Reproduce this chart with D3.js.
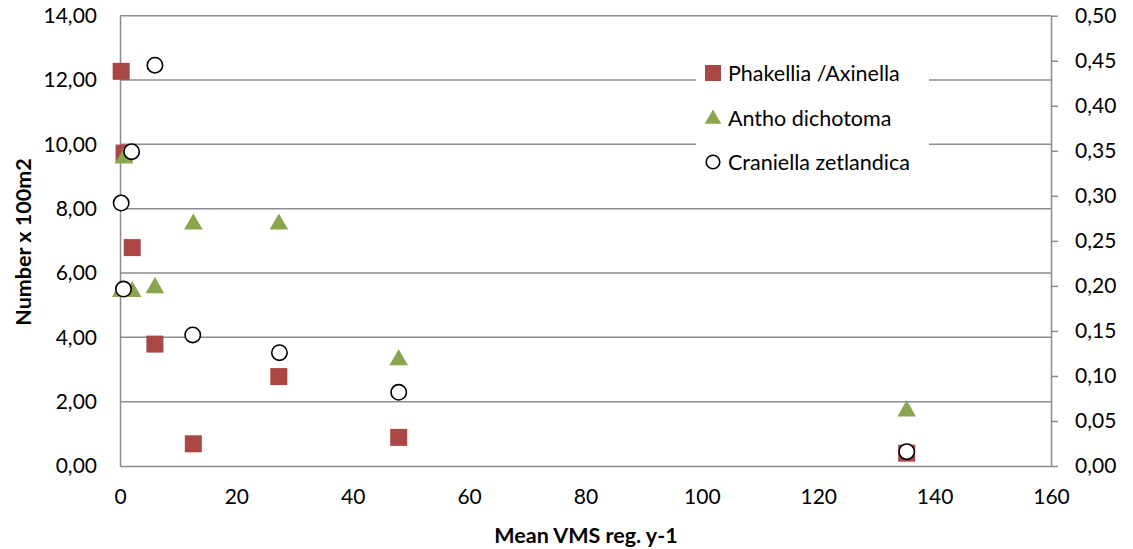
<!DOCTYPE html>
<html>
<head>
<meta charset="utf-8">
<script src="https://cdn.jsdelivr.net/npm/d3@7"></script>
<style>
  body { margin: 0; background: #fff; }
  svg text { font-family: Lato, "Open Sans", sans-serif; fill: #000; }
</style>
</head>
<body>
<svg id="chart" width="1133" height="549"></svg>
<script>
// site values (x = mean VMS registrations per year)
var vmsX = [0.2, 0.7, 2.1, 6.0, 12.6, 27.3, 47.9, 135.2];
var phakellia = [12.27, 9.73, 6.79, 3.79, 0.69, 2.78, 0.89, 0.40];
var antho = [5.45, 9.6, 5.45, 5.57, 7.55, 7.55, 3.33, 1.74];
// craniella is plotted against the secondary (right) axis
var craniellaX = [6.0, 2.0, 0.2, 0.6, 12.5, 27.4, 47.9, 135.2];
var craniella = [0.445, 0.349, 0.292, 0.1965, 0.1455, 0.1258, 0.0818, 0.0159];

var leftTicks = d3.range(0, 14.01, 2);
var rightTicks = d3.range(0, 0.501, 0.05);
var xTicks = d3.range(0, 161, 20);
var seriesNames = ['Phakellia /Axinella', 'Antho dichotoma', 'Craniella zetlandica'];

var red = '#AA4643', green = '#89A54E', grid = '#8c8c8c';

var svg = d3.select('#chart');
var plot = { left: 120, right: 1051, top: 15.7, bottom: 466 };

var x = d3.scaleLinear().domain([0, 160]).range([plot.left, plot.right]);
var yL = d3.scaleLinear().domain([0, 14]).range([plot.bottom, plot.top]);
var yR = d3.scaleLinear().domain([0, 0.5]).range([plot.bottom, plot.top]);

var comma = function(d) { return d3.format('.2f')(d).replace('.', ','); };

// horizontal gridlines
svg.append('g')
  .selectAll('line')
  .data(leftTicks.slice(1))
  .enter().append('line')
  .attr('x1', plot.left).attr('x2', plot.right)
  .attr('y1', function(d) { return yL(d); })
  .attr('y2', function(d) { return yL(d); })
  .attr('stroke', grid).attr('stroke-width', 1.5);

// axes
var gx = svg.append('g')
  .attr('transform', 'translate(0,' + plot.bottom + ')')
  .call(d3.axisBottom(x).tickValues(xTicks).tickSize(0).tickPadding(23));
var gl = svg.append('g')
  .attr('transform', 'translate(' + plot.left + ',0)')
  .call(d3.axisLeft(yL).tickValues(leftTicks).tickSize(0).tickPadding(23).tickFormat(comma));
var gr = svg.append('g')
  .attr('transform', 'translate(' + plot.right + ',0)')
  .call(d3.axisRight(yR).tickValues(rightTicks).tickSizeInner(7).tickSizeOuter(0).tickPadding(17).tickFormat(comma));

[gx, gl, gr].forEach(function(g) {
  g.select('.domain').attr('stroke', grid).attr('stroke-width', 1.5);
  g.selectAll('.tick line').attr('stroke', grid).attr('stroke-width', 1.5);
  g.selectAll('.tick text').attr('font-size', 21).attr('font-family', 'Lato, sans-serif').attr('fill', '#000');
});

// axis titles
svg.append('text')
  .attr('transform', 'translate(31,242) rotate(-90)')
  .attr('text-anchor', 'middle')
  .attr('font-size', 21.5).attr('font-weight', 'bold')
  .text('Number x 100m2');
svg.append('text')
  .attr('x', 586).attr('y', 543)
  .attr('text-anchor', 'middle')
  .attr('font-size', 21.5).attr('font-weight', 'bold')
  .text('Mean VMS reg. y-1');

// markers
var sq = 17, tri = d3.symbol().type(d3.symbolTriangle).size(150);

svg.append('g').selectAll('rect')
  .data(d3.zip(vmsX, phakellia))
  .enter().append('rect')
  .attr('x', function(d) { return x(d[0]) - sq / 2; })
  .attr('y', function(d) { return yL(d[1]) - sq / 2; })
  .attr('width', sq).attr('height', sq)
  .attr('fill', red);

svg.append('g').selectAll('path')
  .data(d3.zip(vmsX, antho))
  .enter().append('path')
  .attr('d', tri)
  .attr('transform', function(d) { return 'translate(' + x(d[0]) + ',' + (yL(d[1]) + 1) + ')'; })
  .attr('fill', green);

svg.append('g').selectAll('circle')
  .data(d3.zip(craniellaX, craniella))
  .enter().append('circle')
  .attr('cx', function(d) { return x(d[0]); })
  .attr('cy', function(d) { return yR(d[1]); })
  .attr('r', 7.7)
  .attr('fill', '#fff').attr('stroke', '#000').attr('stroke-width', 1.6);

// legend
var legend = svg.append('g');
legend.append('rect')
  .attr('x', 696).attr('y', 50).attr('width', 233).attr('height', 135)
  .attr('fill', '#fff');
var rowY = [73, 118, 162];
var items = legend.selectAll('g.item')
  .data(seriesNames)
  .enter().append('g')
  .attr('class', 'item')
  .attr('transform', function(d, i) { return 'translate(713,' + rowY[i] + ')'; });
items.each(function(d, i) {
  var g = d3.select(this);
  if (i === 0) {
    g.append('rect').attr('x', -8).attr('y', -8).attr('width', 16).attr('height', 16).attr('fill', red);
  } else if (i === 1) {
    g.append('path').attr('d', d3.symbol().type(d3.symbolTriangle).size(120)).attr('transform', 'translate(0,1)').attr('fill', green);
  } else {
    g.append('circle').attr('r', 6.8).attr('fill', '#fff').attr('stroke', '#000').attr('stroke-width', 1.6);
  }
  g.append('text')
    .attr('x', 15).attr('dy', '0.35em')
    .attr('font-size', 21.5)
    .text(d);
});
</script>
</body>
</html>
